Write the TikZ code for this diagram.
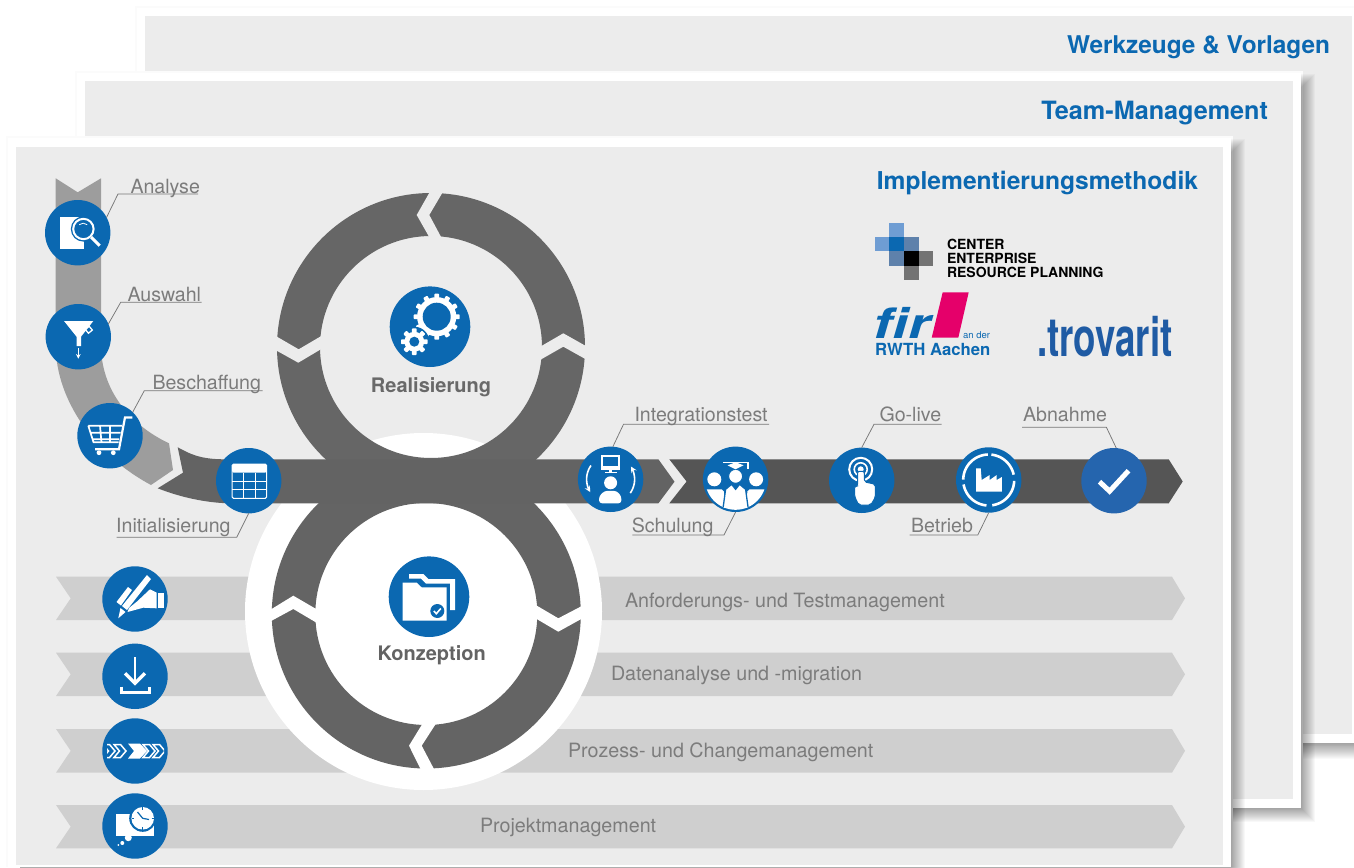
\documentclass[tikz,border=0pt]{standalone}
\usepackage{fontspec}
\setmainfont{TeX Gyre Heros}
\definecolor{panel}{HTML}{ECECEC}
\definecolor{halo}{HTML}{FBFBFB}
\definecolor{brand}{HTML}{0B68B1}
\definecolor{brandb}{HTML}{2565AE}
\definecolor{ringc}{HTML}{666666}
\definecolor{bandl}{HTML}{636363}
\definecolor{bandr}{HTML}{555555}
\definecolor{bandg}{HTML}{9D9D9D}
\definecolor{barc}{HTML}{CFCFCF}
\definecolor{lab}{HTML}{7C7C7C}
\definecolor{leadc}{HTML}{777777}
\definecolor{magen}{HTML}{E5006A}
\definecolor{trov}{HTML}{1F5BA4}
\definecolor{erpa}{HTML}{6F9DD3}
\definecolor{erpb}{HTML}{5E81AB}
\definecolor{erpc}{HTML}{737373}
\newcommand\fs[1]{\fontsize{#1}{#1}\selectfont}
\newcommand\gearicon[5]{% x y outer hole teeth
  \fill (#1,#2) circle ({#3-3.4});
  \foreach \gi in {1,...,#5}{
    \fill[rounded corners=.8pt,rotate around={360*\gi/#5:(#1,#2)}]
      ({#1+#3-4.5},{#2-2.4}) rectangle ({#1+#3},{#2+2.4});}
  \fill[brand] (#1,#2) circle (#4);}
\newcommand\chevout[1]{\draw[line width=1.5pt,miter limit=4] (#1,-6.5) -- ({#1+6.5},-6.5) -- ({#1+12},0) -- ({#1+6.5},6.5) -- (#1,6.5) -- ({#1+5.5},0) -- cycle;}
\tikzset{
  x=1pt,y=-1pt,
  icon/.style={circle,fill=brand,minimum size=65.4pt,inner sep=0pt,outer sep=0pt},
  bigicon/.style={circle,fill=brand,minimum size=80.6pt,inner sep=0pt,outer sep=0pt},
  lbl/.style={text=lab,font=\fs{19.6},inner sep=0pt,outer sep=0pt,anchor=base west},
  barlbl/.style={text=lab,font=\fs{19.7},inner sep=0pt,outer sep=0pt,anchor=base west},
  head/.style={text=brand,font=\bfseries,inner sep=0pt,outer sep=0pt,anchor=base east},
  phase/.style={font=\bfseries\fs{20},inner sep=0pt,outer sep=0pt},
  leadline/.style={draw=leadc,line width=.75pt},
  barshape/.style={fill=barc},
  erplbl/.style={font=\bfseries\fs{14},inner sep=0pt,outer sep=0pt,anchor=base west,text=black},
}
\begin{document}
\begin{tikzpicture}
\useasboundingbox (0,0) rectangle (1354,867);
\begin{scope}
\clip (0,0) rectangle (1354,867);
\fill[white] (0,0) rectangle (1354,867);
% back panel
\fill[halo] (135,6) rectangle (1354,746);
\fill[white] (137,8) rectangle (1354,743);
\foreach \i in {1,...,16}{\fill[black,opacity=.024] (137,{743-2}) rectangle (1354,{743+\i});}
\fill[white] (137,8) rectangle (1354,743);
\fill[panel] (145,16) rectangle (1352,734);
\node[head,font=\bfseries\fs{24.4}] (tW) at (1330,53) {Werkzeuge \& Vorlagen};
% middle panel
\fill[halo] (75,71) rectangle (1303,810);
\foreach \i in {1,...,14}{\fill[black,opacity=.026] (90,{88-\i}) rectangle ({1301+\i},{808+\i});}
\fill[white] (77,73) rectangle (1301,808);
\fill[panel] (85,81) rectangle (1293,799);
\node[head,font=\bfseries\fs{25.2}] (tT) at (1268,119) {Team-Management};
% front panel
\fill[halo] (6,136) rectangle (1233,867);
\foreach \i in {1,...,14}{\fill[black,opacity=.026] (20,{153-\i}) rectangle ({1231+\i},{880});}
\fill[white] (8,138) rectangle (1231,867);
\fill[panel] (16,147) rectangle (1223,865);
\node[head,font=\bfseries\fs{24.6}] (tI) at (1198,189) {Implementierungsmethodik};
% logos
\fill[erpa] (889,223) rectangle (904,237);
\fill[erpa] (875,237) rectangle (889,251);
\fill[brand] (889,237) rectangle (904,251);
\fill[erpb] (904,237) rectangle (919,251);
\fill[erpb] (889,251) rectangle (904,265.7);
\fill[black] (904,251) rectangle (919,265.7);
\fill[erpc] (919,251) rectangle (933,265.7);
\fill[erpc] (904,265.7) rectangle (919,280);
\node[erplbl] (e1) at (947,249) {CENTER};
\node[erplbl] (e2) at (947,263) {ENTERPRISE};
\node[erplbl] (e3) at (947,277) {RESOURCE PLANNING};
\fill[magen] (942.7,292.3) -- (968.7,292.3) -- (958.3,337.7) -- (931.7,337.7) -- cycle;
\node[inner sep=0pt,anchor=base west,text=brand] (fir) at (873,338) {\scalebox{1.36}[1]{\bfseries\itshape\fs{42}fir}};
\node[inner sep=0pt,anchor=base west,text=brand] (fir2) at (963,338) {\fs{9.5}an der};
\node[inner sep=0pt,anchor=base west,text=brand] (fir3) at (875,355) {\bfseries\fs{16.7}RWTH Aachen};
\node[inner sep=0pt,anchor=base west,text=trov] (trv) at (1037,356) {\scalebox{.68}[1]{\bfseries\fs{54}.trovarit}};
% grey bars
\foreach \n/\ya/\yb in {b1/576.7/620,b2/652.7/696,b3/729/772.7,b4/805/848.3}{
  \fill[barshape] (56,\ya) -- (1172,\ya) -- (1185,{(\ya+\yb)/2}) -- (1172,\yb) -- (56,\yb) -- (70.7,{(\ya+\yb)/2}) -- cycle;
}
\node[barlbl] (t1) at (625,607) {Anforderungs- und Testmanagement};
\node[barlbl] (t2) at (611,680) {Datenanalyse und -migration};
\node[barlbl] (t3) at (568,757) {Prozess- und Changemanagement};
\node[barlbl] (t4) at (480,832) {Projektmanagement};
% curved start
\fill[bandg] (55.7,178.3) -- (77.7,192.3) -- (101,178.3) -- (101,345) .. controls (101,390) and (130,425) .. (169,443.3) -- (173,470) -- (151,485) .. controls (95,455) and (55.7,400) .. (55.7,345) -- cycle;
% white disc
\fill[white] (423.5,611.5) circle (178.5);
% lower ring
\fill[ringc!98!black,even odd rule] (426.3,614) circle (154.5) (426.3,614) circle (111);
\fill[white] (270,610.0) -- (293.3,595.7) -- (317,609.5) -- (317,623) -- (293.3,609) -- (270,621.6) -- cycle;
\fill[white] (535,604.6) -- (558.3,618.3) -- (583,605.4) -- (583,618) -- (558.3,631.7) -- (535,618) -- cycle;
\fill[white] (423.5,722) -- (409,745.7) -- (421,770) -- (434.5,770) -- (421.7,745.7) -- (437,722) -- cycle;
% upper ring
\fill[ringc,even odd rule] (431,347) circle (154) (431,347) circle (111);
\fill[panel] (430.9,190) -- (416.7,215) -- (430.9,240) -- (443,240.6) -- (429.3,215) -- (443.6,190.7) -- cycle;
\fill[panel] (274,335) -- (298.7,349.3) -- (323,335) -- (323,348) -- (298.3,362.7) -- (274,349.2) -- cycle;
\fill[panel] (539,347.4) -- (563.3,333.3) -- (588,347.2) -- (588,360.5) -- (563.3,346.7) -- (539,360.6) -- cycle;
% main band
\fill[bandl] (177.7,447.3) .. controls (190,454) and (200,459.3) .. (225,459.3) -- (658.4,459.3) -- (674.5,481.7) -- (658.4,503.3) -- (233,503.5) .. controls (205,503) and (180,497) .. (157.7,488.3) -- (183,472.7) -- cycle;
\fill[bandr] (669.3,459.3) -- (1168.7,459.3) -- (1182.7,481.5) -- (1168.7,503.3) -- (669.3,503.3) -- (686.6,481.5) -- cycle;
% phase centres
\node[bigicon] (cR) at (430,326.7) {};
\node[bigicon] (cK) at (429,596.7) {};
\node[phase,text=lab!85!black] (pR) at (431,387) {Realisierung};
\node[phase,text=bandl] (pK) at (431.7,655) {Konzeption};
% step icons
\node[icon] (cA) at (77.7,232.7) {};
\node[icon] (cU) at (78.3,336.7) {};
\node[icon] (cB) at (110,435.7) {};
\node[icon] (cN) at (248.7,480.7) {};
\node[icon] (cI) at (610.6,479.3) {};
\node[icon] (cS) at (735.6,479.3) {};
\node[icon] (cG) at (861.7,480.3) {};
\node[icon] (cE) at (988.7,480) {};
\node[icon,fill=brandb] (cH) at (1114,480.7) {};
\node[icon] (c1) at (135,599) {};
\node[icon] (c2) at (135,676.3) {};
\node[icon] (c3) at (135,751) {};
\node[icon] (c4) at (135,826) {};
% labels and leaders
\node[lbl] (lA) at (130.5,193) {Analyse};
\coordinate (eA) at (198,194); \coordinate (kA) at (118,194);
\draw[leadline] (eA) -- (kA) -- (cA.28);
\node[lbl] (lU) at (127.5,301) {Auswahl};
\coordinate (eU) at (201.7,302.3); \coordinate (kU) at (120.7,302.3);
\draw[leadline] (eU) -- (kU) -- (cU.23);
\node[lbl] (lB) at (152.5,389) {Beschaffung};
\coordinate (eB) at (262.7,390.7); \coordinate (kB) at (144.3,390.7);
\draw[leadline] (eB) -- (kB) -- (cB.46);
\node[lbl] (lN) at (116.2,532.7) {Initialisierung};
\coordinate (eN) at (116.7,537.3); \coordinate (kN) at (236.7,537.3);
\draw[leadline] (eN) -- (kN) -- (cN.-90);
\node[lbl] (lI) at (634.5,421.7) {Integrationstest};
\coordinate (eI) at (769,424.3); \coordinate (kI) at (623.5,424.3);
\draw[leadline] (eI) -- (kI) -- (cI.86);
\node[lbl] (lS) at (631.8,532.7) {Schulung};
\coordinate (eS) at (632.3,535); \coordinate (kS) at (724,535);
\draw[leadline] (eS) -- (kS) -- (cS.-90);
\node[lbl] (lG) at (879.5,421.7) {Go-live};
\coordinate (eG) at (941.7,424.3); \coordinate (kG) at (874,424.3);
\draw[leadline] (eG) -- (kG) -- (cG.90);
\node[lbl] (lE) at (911,532.7) {Betrieb};
\coordinate (eE) at (909.5,535); \coordinate (kE) at (977.8,535);
\draw[leadline] (eE) -- (kE) -- (cE.-90);
\node[lbl] (lH) at (1023,421.7) {Abnahme};
\coordinate (eH) at (1022,427.3); \coordinate (kH) at (1106.4,427.3);
\draw[leadline] (eH) -- (kH) -- (cH.86);
% icon: gears
\begin{scope}[shift={(cR)},white]
\gearicon{6.7}{-10}{23}{14}{12}
\fill[brand] (-15.7,15) circle (15);
\gearicon{-15.7}{15}{13.3}{5}{8}
\end{scope}
% icon: folder
\begin{scope}[shift={(cK)},white]
\fill (-20,-22.7) -- (-5.7,-22.7) -- (-0.7,-17.7) -- (26,-17.7) -- (26,13.3) -- (21,13.3) -- (21,-13) -- (-3,-13) -- (-8,-18) -- (-20,-18) -- cycle;
\fill (-26.3,-14) -- (-12.3,-14) -- (-7.3,-9.3) -- (17.7,-9.3) -- (17.7,24) -- (-26.3,24) -- cycle;
\fill[brand] (8.3,14.3) circle (7);
\draw[line width=1.6pt] (4.8,14.3) -- (7.3,17) -- (11.8,11.8);
\end{scope}
% icon: analysis
\begin{scope}[shift={(cA)},white]
\fill (-17.7,-16) rectangle (6.7,16.7);
\fill[brand] (5.7,-3.7) circle (12.6);
\draw[line width=2pt] (5.7,-3.7) circle (10.2);
\draw[line width=3pt] (13.5,4.5) -- (22,13);
\draw[line width=.8pt] (1.5,-8) -- (5.5,-9.5) -- (9.5,-8);
\end{scope}
% icon: funnel
\begin{scope}[shift={(cU)},white]
\fill (-14.3,-15.7) -- (15,-15.7) -- (2.7,0) -- (2.7,9.3) -- (-1.7,9.3) -- (-1.7,0) -- cycle;
\draw[line width=1.1pt,-stealth] (0,11.5) -- (0,22);
\draw[line width=1.3pt,rotate around={40:(10.5,-7)}] (8,-9.5) rectangle (13,-4.5);
\end{scope}
% icon: cart
\begin{scope}[shift={(cB)},white]
\draw[line width=2.2pt] (22.3,-18.3) -- (15,-18.3) -- (9,13.5) -- (-15,13.5);
\draw[line width=1.7pt] (-21.7,-10) -- (12,-10) (-20,-3) -- (10.5,-3) (-18,3.5) -- (9,3.5) (-21.7,-10) -- (-16.5,6.5) -- (8.5,6.5)
  (-10,-10) -- (-8.5,6.5) (0,-10) -- (0,6.5);
\fill (-11,17) circle (2.4) (3.3,17) circle (2.4);
\end{scope}
% icon: table
\begin{scope}[shift={(cN)},white]
\draw[line width=1pt,rounded corners=1.5pt] (-16.7,-16.7) rectangle (18,17.7);
\fill[rounded corners=1.5pt] (-16.7,-16.7) rectangle (18,-8);
\draw[line width=.6pt] (-5,-8) -- (-5,17.7) (6.5,-8) -- (6.5,17.7) (-16.7,1) -- (18,1) (-16.7,9) -- (18,9);
\end{scope}
% icon: integration test
\begin{scope}[shift={(cI)},white]
\fill (-10,-24.3) rectangle (9.6,-11);
\fill[brand] (-8,-22.3) rectangle (7.6,-13);
\fill (-10,-11) rectangle (9.6,-9.8);
\fill (-1.5,-10) rectangle (1.5,-7);
\fill (-6,-7.4) rectangle (6,-6);
\fill (0,3.5) circle (6.5);
\fill[rounded corners=3pt] (-11.6,24) -- (-11.6,17) -- (-6,11.5) -- (6,11.5) -- (10.8,17) -- (10.8,24) -- cycle;
\draw[line width=1.6pt,-stealth] plot[domain=215:148,samples=20] ({24*cos(\x)},{24*sin(\x)});
\draw[line width=1.6pt,-stealth] plot[domain=35:-32,samples=20] ({24*cos(\x)},{24*sin(\x)});
\end{scope}
% icon: training
\begin{scope}[shift={(cS)},white]
\clip (0,0) circle (30.5);
\fill (-21.3,0) circle (7) (20.5,0) circle (7);
\fill[rounded corners=2pt] (-33,32) -- (-31,10) -- (-12,10) -- (-10,32) -- cycle;
\fill[rounded corners=2pt] (10,32) -- (12,10) -- (31,10) -- (33,32) -- cycle;
\fill[draw=brand,line width=1.3pt] (-13,32) -- (-10,10) -- (-4,5) -- (0,10) -- (4,5) -- (10,10) -- (13,32) -- cycle;
\fill[draw=brand,line width=1pt] (0,-3) circle (7);
\fill (-13,-17.7) rectangle (13.2,-16.2);
\fill (13.2,-17.7) rectangle (11.7,-10);
\fill (-8,-14) -- (0,-17) -- (8,-14) -- (0,-10) -- cycle;
\end{scope}
% icon: go-live
\begin{scope}[shift={(cG)},white]
\draw[line width=2pt] (-1,-11) circle (11.5);
\draw[line width=1.6pt] (-1,-11) circle (6.5);
\fill (-1,-11) circle (3);
\fill[draw=brand,line width=1pt,rounded corners=2pt] (-4.2,-9) -- (2.6,-9) -- (2.6,1.5) -- (13.7,4) -- (13.7,17) -- (9,24.7) -- (-3,24.7) -- (-7.2,16) -- (-7.2,6) -- (-4.2,6) -- cycle;
\end{scope}
% icon: operation
\begin{scope}[shift={(cE)},white]
\foreach \u/\v in {-84/-12,2/82,95/170,181/268}{
  \draw[line width=2.6pt] plot[domain=\u:\v,samples=20] ({25.5*cos(\x)},{25.5*sin(\x)});}
\fill (-12.5,-11.7) -- (-8,-11.7) -- (-7,0) -- (1,-5) -- (1,0) -- (8,-5) -- (8,0) -- (13.2,-3) -- (13.2,11.7) -- (-12.5,11.7) -- cycle;
\end{scope}
% icon: check
\begin{scope}[shift={(cH)},white]
\draw[line width=5pt,line cap=butt,line join=miter] (-14.5,1) -- (-4.4,10.5) -- (14.5,-10);
\end{scope}
% icon: writing
\begin{scope}[shift={(c1)},white]
\fill (12,-24) -- (16,-20) -- (-8,11) -- (-13,7) -- cycle;
\fill (-14.5,9) -- (-9.5,13) -- (-16.7,19.3) -- cycle;
\fill (-7,-12) -- (-3,-9) -- (-14,6.5) -- (-18.5,3) -- cycle;
\fill (-6,9) -- (2,2.5) -- (15,-9.7) -- (21.7,-6.3) -- (21.7,9.3) -- (8.3,8.7) -- (-7.5,13) -- cycle;
\fill (22.7,-6.3) rectangle (29.3,9.3);
\end{scope}
% icon: download
\begin{scope}[shift={(c2)},white]
\draw[line width=2.8pt] (0,-19) -- (0,6);
\draw[line width=3.4pt] (-10,-3) -- (0,7) -- (10,-3);
\draw[line width=3pt] (-14,10.3) -- (-14,15.7) -- (14.3,15.7) -- (14.3,10.3);
\end{scope}
% icon: chevrons
\begin{scope}[shift={(c3)},white]
\clip (-28,-10) rectangle (29,10);
\chevout{-32}
\chevout{-21}
\fill (-7,-7.5) -- (5,-7.5) -- (12,0) -- (5,7.5) -- (-7,7.5) -- (-1,0) -- cycle;
\chevout{8}
\chevout{18}
\end{scope}
% icon: project
\begin{scope}[shift={(c4)},white]
\fill (-19.3,-12.3) rectangle (19,10.3);
\fill (-6.7,11.7) circle (3.5) (-12.7,17) circle (2) (-16.7,19) circle (1);
\fill[brand] (7.7,-7.7) circle (13.5);
\fill (7.7,-7.7) circle (11.3);
\draw[brand,line width=1.2pt] (2.5,-14) -- (7.7,-7.7) -- (14,-6.5);
\draw[brand,line width=1pt] (7.7,-19) -- (7.7,-16.5) (7.7,1.2) -- (7.7,3.6) (-3.5,-7.7) -- (-1,-7.7) (16.5,-7.7) -- (19,-7.7);
\end{scope}
\end{scope}
\end{tikzpicture}
\end{document}
